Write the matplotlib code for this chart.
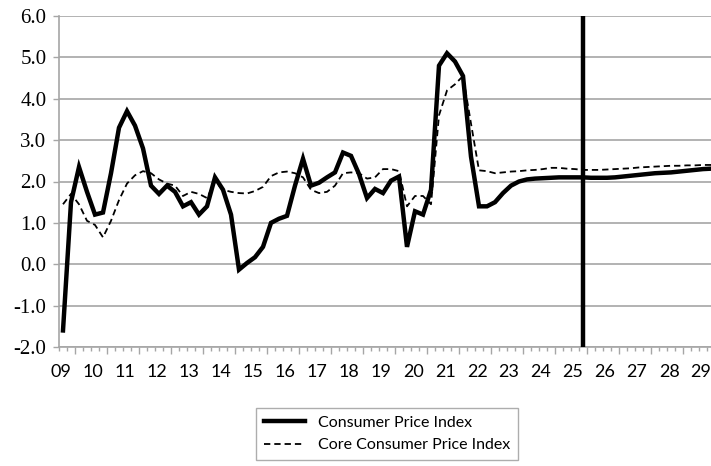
import matplotlib
matplotlib.use("Agg")
import matplotlib.pyplot as plt
import numpy as np

# Quarterly observations from 2009Q3 to 2029Q4
start_year = 2009.5
cpi = [-1.6, 1.5, 2.35, 1.75, 1.2, 1.25, 2.2, 3.3, 3.7, 3.35,
       2.8, 1.9, 1.7, 1.9, 1.75, 1.4, 1.5, 1.2, 1.4, 2.1,
       1.8, 1.2, -0.13, 0.03, 0.17, 0.42, 1.0, 1.1, 1.17, 1.9,
       2.55, 1.9, 1.97, 2.1, 2.22, 2.7, 2.62, 2.18, 1.6, 1.82,
       1.72, 2.02, 2.12, 0.42, 1.28, 1.2, 1.8, 4.8, 5.1, 4.9,
       4.55, 2.6, 1.4, 1.4, 1.5, 1.72, 1.9, 2.0, 2.05, 2.07,
       2.08, 2.09, 2.1, 2.1, 2.1, 2.1, 2.09, 2.09, 2.09, 2.1,
       2.12, 2.14, 2.16, 2.18, 2.2, 2.21, 2.22, 2.24, 2.26, 2.28,
       2.3, 2.31]
core = [1.45, 1.7, 1.45, 1.05, 0.95, 0.65, 1.05, 1.55, 1.95, 2.15,
        2.25, 2.2, 2.05, 1.95, 1.9, 1.65, 1.75, 1.7, 1.6, 2.0,
        1.8, 1.75, 1.72, 1.71, 1.77, 1.87, 2.13, 2.22, 2.24, 2.2,
        2.1, 1.8, 1.72, 1.75, 1.9, 2.2, 2.22, 2.2, 2.07, 2.1,
        2.3, 2.3, 2.25, 1.4, 1.65, 1.65, 1.45, 3.6, 4.2, 4.35,
        4.55, 3.4, 2.27, 2.25, 2.2, 2.22, 2.24, 2.25, 2.27, 2.28,
        2.3, 2.33, 2.33, 2.31, 2.3, 2.28, 2.28, 2.28, 2.29, 2.3,
        2.31, 2.32, 2.34, 2.35, 2.36, 2.37, 2.38, 2.38, 2.39, 2.39,
        2.4, 2.4]
year_labels = ["09", "10", "11", "12", "13", "14", "15", "16", "17", "18", "19",
               "20", "21", "22", "23", "24", "25", "26", "27", "28", "29"]
label_years = list(range(2009, 2030))
forecast_start = 2025.75
y_ticks = [-2.0, -1.0, 0.0, 1.0, 2.0, 3.0, 4.0, 5.0, 6.0]

t = start_year + 0.25 * np.arange(len(cpi))

fig = plt.figure(figsize=(7.11, 4.66), dpi=100)
W, H = 711, 466
x0, x1, ytop, ybot = 59, 715, 16, 347
ax = fig.add_axes([x0 / W, 1 - ybot / H, (x1 - x0) / W, (ybot - ytop) / H])

grid_col = "#a6a6a6"
ax.set_ylim(-2, 6)
ax.set_xlim(t[0] - 0.125, t[-1] + 0.125)
ax.set_yticks(y_ticks)
ax.set_yticklabels([f"{v:.1f}" for v in y_ticks], family="Liberation Serif", fontsize=15)
for v in y_ticks:
    ax.axhline(v, color=grid_col, lw=1.2, zorder=0)

ax.plot(t, cpi, color="black", lw=3.2, solid_joinstyle="miter", label="Consumer Price Index", zorder=3)
ax.plot(t, core, color="black", lw=1.3, dashes=(3.5, 2.2), label="Core Consumer Price Index", zorder=2)
ax.axvline(forecast_start, color="black", lw=3.2, zorder=4)

# x ticks
minor = np.arange(t[0] - 0.125, t[-1] + 0.2, 0.25)
major = [y + 0.875 for y in range(2009, 2030)]
ax.set_xticks(major)
ax.set_xticklabels([])
ax.set_xticks(minor, minor=True)
ax.tick_params(axis="x", which="major", length=5, width=1, color=grid_col, direction="out")
ax.tick_params(axis="x", which="minor", length=3, width=1, color=grid_col, direction="out")
ax.tick_params(axis="y", length=4, width=1, color=grid_col, pad=5)
for ly, lab in zip(label_years, year_labels):
    ax.text(ly + 0.44, -0.05, lab, transform=ax.get_xaxis_transform(), ha="center", va="top",
            family="Lato", fontsize=13)

for s in ["top", "right"]:
    ax.spines[s].set_visible(False)
for s in ["left", "bottom"]:
    ax.spines[s].set_color(grid_col)
    ax.spines[s].set_linewidth(1.2)

leg = fig.legend(loc="center", bbox_to_anchor=(387 / W, 1 - 434 / H), frameon=True, fancybox=False,
                 edgecolor="#999999", prop={"family": "Lato", "size": 11.5}, handlelength=2.6,
                 labelspacing=0.5, borderpad=0.5, handletextpad=0.8)
leg.get_frame().set_linewidth(1.0)

fig.savefig("out.png", dpi=100)
